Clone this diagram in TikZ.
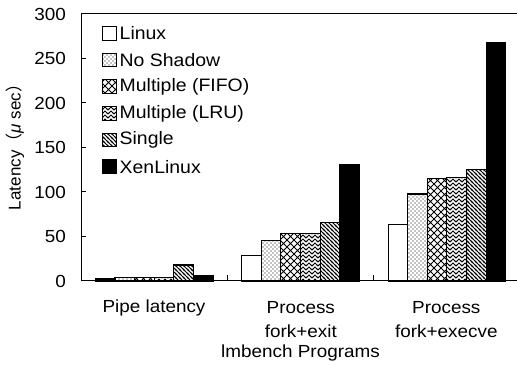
\documentclass[tikz,border=0pt]{standalone}
\usepackage{fontspec}
\setmainfont{Liberation Sans}[FakeStretch=1.08]
\newfontfamily\plainsans{Liberation Sans}
\newfontfamily\cjk{Noto Sans CJK JP}
\usetikzlibrary{patterns}

% fill patterns for the bar series
\pgfdeclarepatternformonly{bardots}{\pgfqpoint{-1pt}{-1pt}}{\pgfqpoint{5pt}{5pt}}{\pgfqpoint{4pt}{4pt}}{%
  \pgfpathcircle{\pgfqpoint{1pt}{1pt}}{0.6pt}%
  \pgfpathcircle{\pgfqpoint{3pt}{3pt}}{0.6pt}%
  \pgfusepath{fill}}
\pgfdeclarepatternformonly{barcross}{\pgfqpoint{-1pt}{-1pt}}{\pgfqpoint{8pt}{8pt}}{\pgfqpoint{7pt}{7pt}}{%
  \pgfsetlinewidth{0.8pt}%
  \pgfpathmoveto{\pgfqpoint{0pt}{0pt}}\pgfpathlineto{\pgfqpoint{7pt}{7pt}}%
  \pgfpathmoveto{\pgfqpoint{0pt}{7pt}}\pgfpathlineto{\pgfqpoint{7pt}{0pt}}%
  \pgfusepath{stroke}}
\pgfdeclarepatternformonly{barchevron}{\pgfqpoint{-1pt}{-1pt}}{\pgfqpoint{7pt}{5pt}}{\pgfqpoint{6pt}{4pt}}{%
  \pgfsetlinewidth{0.8pt}%
  \pgfpathmoveto{\pgfqpoint{0pt}{0pt}}\pgfpathlineto{\pgfqpoint{3pt}{3pt}}\pgfpathlineto{\pgfqpoint{6pt}{0pt}}%
  \pgfpathmoveto{\pgfqpoint{0pt}{4pt}}\pgfpathlineto{\pgfqpoint{1pt}{5pt}}%
  \pgfpathmoveto{\pgfqpoint{6pt}{4pt}}\pgfpathlineto{\pgfqpoint{5pt}{5pt}}%
  \pgfusepath{stroke}}
\pgfdeclarepatternformonly{barnwlines}{\pgfqpoint{-1pt}{-1pt}}{\pgfqpoint{5pt}{5pt}}{\pgfqpoint{4pt}{4pt}}{%
  \pgfsetlinewidth{0.8pt}%
  \pgfpathmoveto{\pgfqpoint{0pt}{4pt}}\pgfpathlineto{\pgfqpoint{4pt}{0pt}}%
  \pgfpathmoveto{\pgfqpoint{-1pt}{1pt}}\pgfpathlineto{\pgfqpoint{1pt}{-1pt}}%
  \pgfpathmoveto{\pgfqpoint{3pt}{5pt}}\pgfpathlineto{\pgfqpoint{5pt}{3pt}}%
  \pgfusepath{stroke}}

\tikzset{
  barbase/.style={draw=black, line width=1.1pt},
  sLinux/.style={barbase, fill=white},
  sNoShadow/.style={barbase, pattern=bardots},
  sFIFO/.style={barbase, pattern=barcross},
  sLRU/.style={barbase, pattern=barchevron},
  sSingle/.style={barbase, pattern=barnwlines},
  sXen/.style={barbase, fill=black},
  axisline/.style={line width=1pt, black},
  ticklabel/.style={font=\fontsize{17.5}{20}\selectfont, anchor=east, inner sep=0pt},
  legtext/.style={font=\fontsize{18}{20}\selectfont, anchor=west, inner sep=0pt},
  cattext/.style={font=\fontsize{17.5}{20}\selectfont, inner sep=0pt},
}

\begin{document}
\begin{tikzpicture}[x=1pt, y=-1pt]
\useasboundingbox (0,0) rectangle (517,366);

% axes frame
\coordinate (ytop) at (81,14);
\coordinate (orig) at (81,281);
\coordinate (xend) at (520,281);
\coordinate (tend) at (520,14);
\draw[axisline] (ytop) -- (orig) -- (xend);
\draw[axisline] (ytop) -- (tend);

% y ticks and labels (0.89 px per microsecond)
\foreach \v in {0,50,...,300} {
  \pgfmathsetmacro{\yy}{281-0.89*\v}
  \draw[axisline] (81,\yy) -- (86,\yy);
  \node[ticklabel] (yl\v) at (66,\yy) {\v};
}

% group separators on the x axis
\draw[axisline] (227.7,281) -- (227.7,275);
\draw[axisline] (373.3,281) -- (373.3,275);

% bars: group, values
\foreach \g/\a/\b/\c/\d/\e/\f in {0/2.3/3.7/3.7/3.7/18/6, 1/28.4/46/53.6/53.6/66/130.7, 2/63/97.8/115/116/125.5/268} {
  \pgfmathsetmacro{\xs}{81+146.33*\g+14.4}
  \foreach \i/\val/\sty in {0/\a/sLinux, 1/\b/sNoShadow, 2/\c/sFIFO, 3/\d/sLRU, 4/\e/sSingle, 5/\f/sXen} {
    \pgfmathsetmacro{\xl}{\xs+19.6*\i}
    \pgfmathsetmacro{\xr}{\xl+19.6}
    \pgfmathsetmacro{\yt}{281-0.89*\val}
    \draw[\sty] (\xl,281) rectangle (\xr,\yt);
  }
}
\draw[axisline] (orig) -- (xend);

% legend
\foreach \k/\sty/\txt in {0/sLinux/Linux, 1/sNoShadow/No Shadow, 2/sFIFO/Multiple (FIFO), 3/sLRU/Multiple (LRU), 4/sSingle/Single, 5/sXen/XenLinux} {
  \pgfmathsetmacro{\yc}{33.3+26.7*\k}
  \draw[\sty, line width=1pt] (102.5,\yc-6.8) rectangle (116.3,\yc+6.8);
  \node[legtext] (leg\k) at (119.5,\yc) {\txt};
}

% axis titles and category labels
\node[inner sep=0pt, rotate=90, font=\plainsans\fontsize{17}{20}\selectfont] (ylabel) at (15,143)
  {Latency{\cjk （}\textit{μ} sec{\cjk ）}};
\node[cattext] (cat1) at (154,308) {Pipe latency};
\node[cattext] (cat2a) at (300.8,308) {Process};
\node[cattext] (cat2b) at (300.8,331) {fork+exit};
\node[cattext] (cat3a) at (446.3,308) {Process};
\node[cattext] (cat3b) at (446.3,331) {fork+execve};
\node[cattext] (xlabel) at (300.5,353) {lmbench Programs};
\end{tikzpicture}
\end{document}
